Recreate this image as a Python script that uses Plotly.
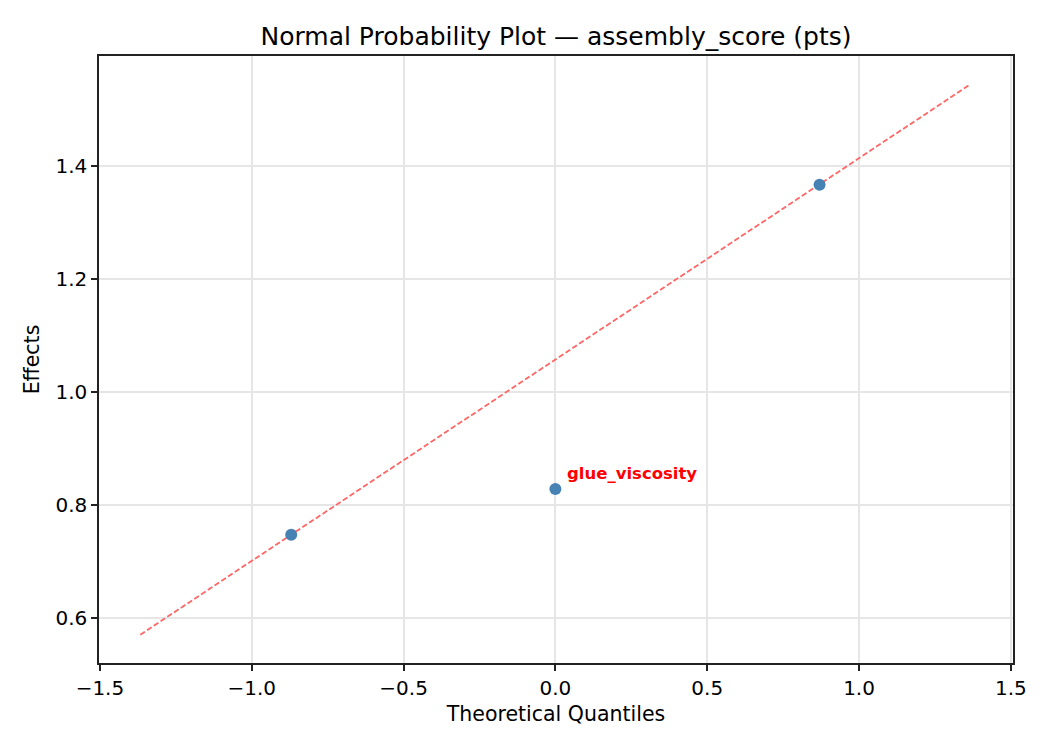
import plotly.graph_objects as go

# datos
cuantiles = [-0.87, 0.0, 0.87]
efectos = [0.747, 0.828, 1.367]
factores = ["", "glue_viscosity", ""]

linea_x = [-1.367, 1.367]
linea_y = [0.570, 1.545]

fig = go.Figure()

fig.add_trace(go.Scatter(x=linea_x, y=linea_y, mode="lines",
                         line=dict(color="#ff6666", width=1.8, dash="5.5px,2.6px"),
                         showlegend=False, hoverinfo="skip"))

fig.add_trace(go.Scatter(x=cuantiles, y=efectos, mode="markers",
                         marker=dict(color="#4682b4", size=12),
                         showlegend=False))

# etiqueta del factor significativo
for xq, yq, nombre in zip(cuantiles, efectos, factores):
    if nombre:
        fig.add_annotation(x=xq, y=yq, text="<b>" + nombre + "</b>", showarrow=False,
                           xanchor="left", yanchor="middle", xshift=10, yshift=16,
                           font=dict(color="red", size=16.5, family="DejaVu Sans"))

eje = dict(showline=True, linecolor="#222", linewidth=1.5, mirror=True,
           ticks="outside", ticklen=6, tickwidth=1.5, tickcolor="#222",
           showgrid=True, gridcolor="#e6e6e6", gridwidth=1.5, zeroline=False,
           tickfont=dict(size=20, color="black"))

fig.update_xaxes(eje, range=[-1.503, 1.507], tickvals=[-1.5, -1.0, -0.5, 0.0, 0.5, 1.0, 1.5],
                 ticktext=["\u22121.5", "\u22121.0", "\u22120.5", "0.0", "0.5", "1.0", "1.5"],
                 title=dict(text="Theoretical Quantiles", font=dict(size=20.5, color="black"), standoff=8))
fig.update_yaxes(eje, range=[0.520, 1.595], tickvals=[0.6, 0.8, 1.0, 1.2, 1.4],
                 ticktext=["0.6", "0.8", "1.0", "1.2", "1.4"],
                 title=dict(text="Effects", font=dict(size=20.5, color="black"), standoff=10))

fig.update_layout(width=1050, height=750,
                  margin=dict(l=91, r=45, t=48, b=95),
                  plot_bgcolor="white", paper_bgcolor="white",
                  font=dict(family="DejaVu Sans", color="black"),
                  title=dict(text="Normal Probability Plot \u2014 assembly_score (pts)",
                             xref="paper", x=0.5, xanchor="center", y=0.963, yanchor="middle",
                             font=dict(size=25, color="black")))

fig.write_html("out.html")
